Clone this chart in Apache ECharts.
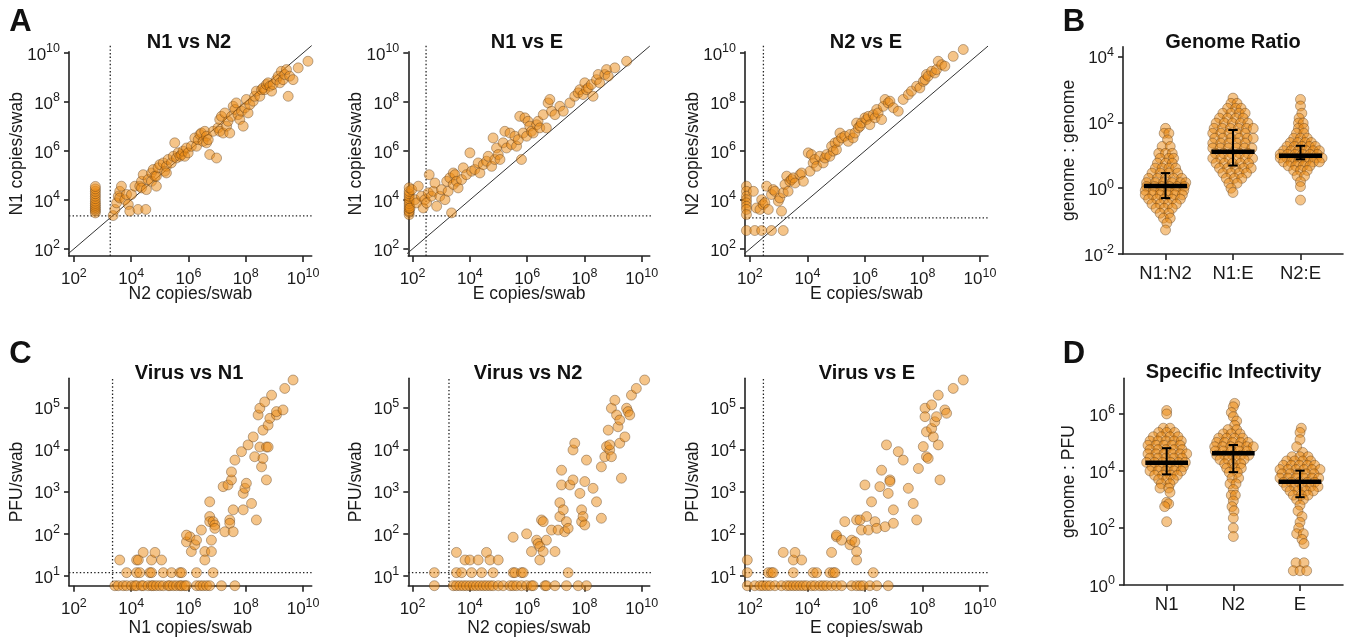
<!DOCTYPE html>
<html><head><meta charset="utf-8">
<script src="https://cdn.jsdelivr.net/npm/echarts@6/dist/echarts.min.js"></script>
<style>html,body{margin:0;padding:0;background:#fff}#c{width:1357px;height:640px}</style>
</head><body><div id="c"></div>
<script>
// ===== DATA (all values are log10 of the plotted quantity) =====
const copyTicks = [2, 4, 6, 8, 10];
const pfuTicks = [1, 2, 3, 4, 5];
const ratioTicks = [-2, 0, 2, 4];
const infTicks = [0, 2, 4, 6];
const ratioCats = ['N1:N2', 'N1:E', 'N2:E'];
const infCats = ['N1', 'N2', 'E'];

// limits of detection (log10)
const lodN1 = 3.35, lodN2 = 3.27, lodE = 2.47, lodPFU = 1.08;

// A: [x, y] pairs
const n1VsN2 = [ // x = N2, y = N1
[2.75,3.47],[2.75,3.55],[2.75,3.62],[2.75,3.7],[2.75,3.78],[2.75,3.86],[2.75,3.95],[2.75,4.05],[2.75,4.15],[2.75,4.25],[2.75,4.35],[2.75,4.45],[2.75,4.55],
[3.37,3.36],[3.43,3.61],[3.49,3.88],[3.55,4.15],[3.6,4.35],[3.6,4.08],[3.66,4.56],[3.78,4.01],[3.84,4.22],[3.9,3.81],[3.95,3.54],[4.01,4.22],[4.13,4.56],[4.24,3.61],[4.3,4.56],[4.36,4.76],[4.36,4.49],[4.42,5.03],[4.51,3.61],[4.53,4.42],[4.59,4.83],[4.71,5.1],[4.71,4.76],[4.77,5.24],[4.83,4.97],[4.88,4.56],[4.88,4.97],[4.94,5.31],[5.0,5.44],[5.12,5.51],[5.17,5.17],[5.23,5.37],[5.23,5.1],[5.29,5.65],[5.4,5.51],[5.47,5.78],[5.52,6.33],[5.58,5.71],[5.64,5.92],[5.7,5.78],[5.76,5.85],[5.81,5.99],[5.87,5.78],[5.93,6.12],[5.99,5.92],[6.1,6.19],[6.22,6.53],[6.28,6.19],[6.34,6.46],[6.4,6.67],[6.45,6.73],[6.51,6.39],[6.57,6.8],[6.63,6.6],[6.63,6.33],[6.69,6.46],[6.74,5.85],[6.86,6.8],[6.98,5.71],[7.03,6.94],[7.09,6.8],[7.09,7.28],[7.15,7.41],[7.21,6.73],[7.27,7.55],[7.33,7.01],[7.38,7.21],[7.44,6.73],[7.5,7.41],[7.56,7.82],[7.62,7.69],[7.67,7.96],[7.73,7.48],[7.79,7.28],[7.85,7.62],[7.91,7.01],[7.97,7.76],[8.02,8.1],[8.08,7.55],[8.14,7.89],[8.26,8.03],[8.31,8.23],[8.37,8.44],[8.49,8.23],[8.55,8.5],[8.6,8.57],[8.66,8.5],[8.72,8.71],[8.78,8.78],[8.84,8.64],[8.9,8.44],[8.95,8.71],[9.07,8.91],[9.13,9.05],[9.19,8.78],[9.24,9.25],[9.3,8.91],[9.36,9.12],[9.42,9.32],[9.48,8.23],[9.53,9.05],[9.65,8.91],[9.83,9.39],[10.17,9.66]
];
const n1VsE = [ // x = E, y = N1
[1.88,3.4],[1.88,3.5],[1.88,3.55],[1.88,3.65],[1.88,3.75],[1.88,3.85],[1.88,3.95],[1.88,4.05],[1.88,4.15],[1.88,4.25],[1.88,4.35],[1.88,4.5],
[1.91,3.67],[1.97,4.42],[2.08,4.01],[2.14,3.88],[2.2,4.56],[2.31,4.15],[2.37,3.67],[2.43,4.01],[2.49,3.88],[2.55,4.29],[2.58,5.03],[2.66,4.15],[2.72,4.35],[2.78,4.69],[2.84,3.74],[2.95,4.15],[3.01,4.42],[3.13,4.01],[3.19,4.76],[3.24,4.35],[3.3,4.9],[3.36,3.47],[3.42,4.63],[3.42,5.1],[3.48,5.03],[3.53,4.76],[3.59,4.49],[3.71,4.83],[3.77,5.31],[3.88,5.03],[4.0,5.92],[4.06,5.17],[4.17,5.24],[4.29,5.51],[4.35,5.1],[4.47,5.44],[4.58,5.58],[4.64,5.78],[4.76,5.37],[4.81,6.53],[4.87,5.65],[4.93,6.12],[4.99,5.85],[5.05,5.65],[5.16,6.33],[5.22,6.8],[5.28,6.12],[5.4,6.73],[5.45,6.26],[5.57,6.6],[5.63,6.19],[5.69,6.46],[5.74,7.41],[5.8,5.65],[5.86,6.73],[5.92,7.35],[5.98,6.6],[6.03,7.21],[6.09,7.01],[6.15,6.8],[6.21,6.73],[6.33,7.07],[6.38,7.21],[6.44,6.94],[6.56,7.48],[6.67,6.94],[6.73,7.96],[6.79,8.1],[6.85,7.62],[6.97,7.48],[7.14,7.82],[7.26,7.62],[7.49,7.96],[7.66,8.23],[7.78,8.37],[7.84,8.5],[7.95,8.3],[8.01,8.78],[8.07,8.5],[8.13,8.57],[8.24,8.71],[8.3,8.23],[8.42,8.91],[8.48,9.12],[8.53,8.78],[8.71,9.12],[8.77,9.32],[8.83,9.05],[9.06,9.39],[9.47,9.66]
];
const n2VsE = [ // x = E, y = N2
[1.88,4.56],[1.88,4.35],[1.88,4.15],[1.88,4.01],[1.88,3.88],[1.88,3.74],[1.88,3.61],[1.88,3.4],[1.88,2.75],
[2.17,2.75],[2.41,2.75],[2.75,2.75],[3.16,2.75],
[2.12,4.35],[2.23,3.67],[2.35,3.61],[2.41,4.01],[2.46,3.81],[2.52,3.88],[2.58,4.56],[2.64,3.61],[2.75,4.22],[2.81,4.42],[2.87,4.35],[2.99,3.95],[3.1,3.54],[3.04,4.08],[3.16,4.29],[3.22,4.63],[3.28,4.97],[3.33,4.35],[3.39,4.76],[3.45,4.83],[3.51,4.9],[3.57,4.69],[3.74,5.03],[3.8,5.1],[3.86,4.76],[4.03,5.92],[4.09,5.17],[4.14,5.85],[4.2,5.51],[4.26,5.65],[4.32,5.37],[4.43,5.78],[4.55,5.51],[4.61,5.71],[4.67,5.85],[4.78,5.78],[4.84,6.19],[4.9,5.99],[4.96,6.33],[5.01,6.05],[5.07,6.39],[5.13,6.73],[5.19,6.53],[5.3,6.6],[5.42,6.39],[5.48,6.67],[5.59,6.53],[5.65,6.73],[5.71,7.14],[5.77,6.94],[5.83,7.01],[5.88,7.14],[6.0,7.35],[6.06,7.28],[6.12,7.41],[6.17,7.07],[6.29,7.48],[6.35,7.35],[6.41,7.69],[6.46,7.55],[6.58,7.28],[6.64,7.82],[6.7,8.1],[6.81,7.96],[6.87,8.03],[6.99,7.76],[7.16,7.62],[7.33,8.1],[7.51,8.3],[7.62,8.44],[7.8,8.64],[7.91,8.57],[8.03,8.84],[8.09,8.91],[8.14,9.12],[8.2,9.05],[8.32,9.25],[8.43,9.18],[8.49,9.32],[8.55,9.66],[8.67,9.52],[8.78,9.46],[9.07,9.86],[9.42,10.14]
];

// C: [copies, PFU] pairs
const virusVsN1 = [
[3.43,0.77],[3.55,0.77],[3.72,0.77],[3.84,0.77],[4.01,0.77],[4.13,0.77],[4.19,0.77],[4.36,0.77],[4.42,0.77],[4.59,0.77],[4.71,0.77],[4.77,0.77],[4.88,0.77],[5.0,0.77],[5.12,0.77],[5.29,0.77],[5.35,0.77],[5.47,0.77],[5.58,0.77],[5.7,0.77],[5.76,0.77],[5.87,0.77],[5.93,0.77],[6.28,0.77],[6.4,0.77],[6.51,0.77],[6.63,0.77],[6.74,0.77],[7.15,0.77],[7.62,0.77],
[3.84,1.08],[4.19,1.08],[4.3,1.08],[4.65,1.08],[4.71,1.08],[5.12,1.08],[5.41,1.08],[5.7,1.08],[5.76,1.08],[6.28,1.08],[6.86,1.08],
[3.6,1.38],[4.19,1.38],[4.25,1.38],[4.71,1.38],[5.06,1.38],[4.42,1.56],[4.83,1.56],
[5.93,1.81],[6.05,1.93],[5.93,1.97],[6.1,1.58],[6.22,1.74],[6.28,1.85],[6.45,2.09],[6.57,1.58],[6.57,1.38],[6.74,2.76],[6.74,2.41],[6.74,2.29],[6.8,1.58],[6.86,2.29],[6.8,1.85],[6.92,2.21],[6.92,2.13],[7.21,3.12],[7.27,2.05],[7.38,3.16],[7.44,2.33],[7.44,2.25],[7.5,3.28],[7.5,3.47],[7.56,2.57],[7.56,2.05],[7.62,3.75],[7.85,3.95],[7.91,2.96],[7.91,2.57],[7.97,3.08],[8.02,3.2],[8.08,4.11],[8.2,2.72],[8.26,4.3],[8.31,3.83],[8.37,2.33],[8.43,4.82],[8.49,4.06],[8.49,4.98],[8.55,3.59],[8.6,4.46],[8.6,3.79],[8.66,5.13],[8.72,4.06],[8.72,3.28],[8.78,4.58],[8.78,4.06],[8.84,4.74],[8.9,5.29],[9.07,4.82],[9.07,4.9],[9.3,4.94],[9.36,5.45],[9.65,5.65]
];
const virusVsN2 = [
[2.76,0.77],[3.42,0.77],[3.53,0.77],[3.65,0.77],[3.77,0.77],[3.88,0.77],[4.0,0.77],[4.12,0.77],[4.23,0.77],[4.35,0.77],[4.47,0.77],[4.58,0.77],[4.7,0.77],[4.81,0.77],[4.99,0.77],[5.16,0.77],[5.4,0.77],[5.51,0.77],[5.63,0.77],[5.8,0.77],[5.98,0.77],[6.15,0.77],[6.21,0.77],[6.62,0.77],[6.67,0.77],[6.97,0.77],[7.37,0.77],[7.78,0.77],[8.07,0.77],
[2.76,1.08],[3.53,1.08],[3.71,1.08],[4.06,1.08],[4.41,1.08],[4.81,1.08],[5.51,1.08],[5.57,1.08],[5.8,1.08],[5.86,1.08],[7.43,1.08],
[3.53,1.56],[3.83,1.38],[4.0,1.38],[4.29,1.38],[4.58,1.56],[4.7,1.38],[4.99,1.38],
[5.51,1.92],[5.98,2.0],[6.15,1.58],[6.33,1.85],[6.38,1.77],[6.44,1.7],[6.44,1.38],[6.56,1.58],[6.5,2.33],[6.56,2.29],[6.67,1.85],[6.85,2.09],[6.97,1.58],[7.08,2.09],[7.14,2.74],[7.14,2.41],[7.2,3.51],[7.2,3.16],[7.26,2.57],[7.31,2.05],[7.37,2.29],[7.43,2.13],[7.49,3.16],[7.6,3.28],[7.6,3.99],[7.66,4.15],[7.84,2.96],[7.9,2.57],[7.9,2.29],[7.95,2.41],[8.01,2.21],[8.01,3.24],[8.07,3.75],[8.3,3.08],[8.42,2.76],[8.59,3.59],[8.59,2.37],[8.71,3.83],[8.77,4.07],[8.83,4.46],[8.88,3.99],[8.88,4.11],[8.94,3.83],[8.94,4.98],[9.06,5.17],[9.12,4.82],[9.17,4.54],[9.23,4.7],[9.23,4.15],[9.29,3.32],[9.41,4.3],[9.47,4.98],[9.52,4.9],[9.58,4.82],[9.64,5.29],[9.81,5.45],[10.1,5.65]
];
const virusVsE = [
[1.91,0.77],[2.17,0.77],[2.35,0.77],[2.46,0.77],[2.58,0.77],[2.7,0.77],[2.87,0.77],[3.1,0.77],[3.28,0.77],[3.39,0.77],[3.51,0.77],[3.62,0.77],[3.74,0.77],[3.86,0.77],[3.97,0.77],[4.14,0.77],[4.26,0.77],[4.43,0.77],[4.55,0.77],[4.67,0.77],[4.84,0.77],[5.01,0.77],[5.19,0.77],[5.54,0.77],[5.71,0.77],[5.83,0.77],[5.94,0.77],[6.17,0.77],[6.41,0.77],[6.81,0.77],
[1.91,1.08],[2.64,1.08],[2.75,1.08],[2.81,1.08],[3.51,1.08],[4.2,1.08],[4.32,1.08],[4.78,1.08],[4.9,1.08],[4.96,1.08],[6.29,1.08],
[1.91,1.38],[3.51,1.38],[3.8,1.38],[5.71,1.38],[3.16,1.56],[3.57,1.56],[4.84,1.56],[5.71,1.58],
[5.01,1.93],[5.01,1.97],[5.19,1.85],[5.3,2.29],[5.48,1.74],[5.54,1.85],[5.65,1.81],[5.71,2.33],[5.83,2.33],[5.88,2.09],[6.0,3.16],[6.06,2.41],[6.12,2.09],[6.23,2.76],[6.35,2.29],[6.41,2.13],[6.52,3.12],[6.58,3.51],[6.7,2.17],[6.75,4.11],[6.81,2.96],[6.87,3.28],[6.87,3.24],[6.99,2.57],[6.99,2.25],[7.16,3.95],[7.33,3.75],[7.51,3.08],[7.68,2.72],[7.86,3.55],[7.8,2.33],[8.03,4.07],[8.09,4.98],[8.09,4.78],[8.14,4.42],[8.14,3.83],[8.2,3.79],[8.32,5.06],[8.32,4.5],[8.38,4.3],[8.43,4.66],[8.49,4.78],[8.55,5.29],[8.55,4.11],[8.61,3.28],[8.78,4.94],[8.84,4.86],[9.07,5.45],[9.42,5.65]
];

// B: genome ratios, [horizontal swarm offset, log10 ratio]
const ratioN1N2 = [
[0,1.82],[-0.02,1.67],[0.05,1.67],[0.03,1.47],[-0.05,1.27],[0.07,1.27],[-0.1,1.06],[0,1.06],[0.1,1.06],[-0.08,0.91],[0.05,0.91],[0.12,0.91],[-0.12,0.76],[0,0.76],[0.1,0.76],
[-0.15,0.61],[-0.05,0.61],[0.05,0.61],[0.15,0.61],[-0.2,0.46],[-0.08,0.46],[0.05,0.46],[0.18,0.46],[-0.25,0.3],[-0.12,0.3],[0,0.3],[0.12,0.3],[0.24,0.3],
[-0.28,0.17],[-0.15,0.17],[-0.03,0.17],[0.1,0.17],[0.22,0.17],[0.3,0.17],[-0.28,0.05],[-0.16,0.05],[-0.05,0.05],[0.06,0.05],[0.17,0.05],[0.28,0.05],
[-0.3,-0.07],[-0.18,-0.07],[-0.07,-0.07],[0.04,-0.07],[0.15,-0.07],[0.27,-0.07],[-0.3,-0.2],[-0.19,-0.2],[-0.08,-0.2],[0.03,-0.2],[0.14,-0.2],[0.25,-0.2],
[-0.25,-0.33],[-0.13,-0.33],[-0.02,-0.33],[0.1,-0.33],[0.22,-0.33],[-0.2,-0.48],[-0.08,-0.48],[0.04,-0.48],[0.16,-0.48],[-0.14,-0.61],[-0.02,-0.61],[0.1,-0.61],
[-0.08,-0.76],[0.05,-0.76],[-0.03,-0.91],[0.07,-0.91],[0.02,-1.06],[0,-1.27]
];
const ratioN1E = [
[0,2.74],[-0.03,2.58],[0.06,2.58],[-0.08,2.43],[0.04,2.43],[0.12,2.43],[-0.15,2.28],[-0.03,2.28],[0.09,2.28],[0.18,2.28],[-0.2,2.13],[-0.08,2.13],[0.04,2.13],[0.15,2.13],
[-0.25,1.98],[-0.13,1.98],[-0.01,1.98],[0.11,1.98],[0.22,1.98],[-0.28,1.82],[-0.16,1.82],[-0.04,1.82],[0.08,1.82],[0.2,1.82],[0.3,1.82],
[-0.3,1.67],[-0.18,1.67],[-0.06,1.67],[0.06,1.67],[0.18,1.67],[-0.27,1.52],[-0.15,1.52],[-0.03,1.52],[0.09,1.52],[0.21,1.52],[0.3,1.52],
[-0.3,1.37],[-0.18,1.37],[-0.06,1.37],[0.06,1.37],[0.18,1.37],[-0.3,1.22],[-0.19,1.22],[-0.07,1.22],[0.05,1.22],[0.17,1.22],[0.28,1.22],
[-0.26,1.06],[-0.14,1.06],[-0.02,1.06],[0.1,1.06],[0.22,1.06],[-0.3,0.91],[-0.18,0.91],[-0.06,0.91],[0.06,0.91],[0.18,0.91],[0.29,0.91],
[-0.25,0.76],[-0.13,0.76],[-0.01,0.76],[0.11,0.76],[0.23,0.76],[-0.2,0.61],[-0.08,0.61],[0.04,0.61],[0.16,0.61],[0.27,0.61],
[-0.15,0.46],[-0.03,0.46],[0.09,0.46],[0.2,0.46],[-0.1,0.3],[0.02,0.3],[0.13,0.3],[-0.06,0.15],[0.06,0.15],[-0.03,0.0],[0,-0.13]
];
const ratioN2E = [
[0,2.7],[0,2.5],[0.02,2.28],[-0.02,2.13],[-0.03,1.98],[0.04,1.98],[-0.03,1.82],[0.05,1.82],[-0.06,1.67],[0.05,1.67],[-0.1,1.52],[0,1.52],[0.1,1.52],
[-0.15,1.39],[-0.04,1.39],[0.07,1.39],[0.16,1.39],[-0.2,1.27],[-0.09,1.27],[0.02,1.27],[0.13,1.27],[0.22,1.27],
[-0.25,1.14],[-0.14,1.14],[-0.03,1.14],[0.08,1.14],[0.19,1.14],[0.28,1.14],[-0.3,1.03],[-0.19,1.03],[-0.08,1.03],[0.03,1.03],[0.14,1.03],[0.25,1.03],
[-0.3,0.92],[-0.2,0.92],[-0.09,0.92],[0.02,0.92],[0.13,0.92],[0.24,0.92],[0.32,0.92],[-0.25,0.8],[-0.14,0.8],[-0.03,0.8],[0.08,0.8],[0.19,0.8],[0.28,0.8],
[-0.18,0.68],[-0.07,0.68],[0.04,0.68],[0.14,0.68],[-0.1,0.54],[0,0.54],[0.1,0.54],[-0.05,0.37],[0.06,0.37],[0,0.2],[0,0.05],[0,-0.36]
];
const ratioMedian = [0.07, 1.11, 0.99];
const ratioLow = [-0.3, 0.69, 0.88];
const ratioHigh = [0.46, 1.77, 1.29];

// D: specific infectivity, [horizontal swarm offset, log10 genome:PFU]
const infN1 = [
[0,6.12],[0,6.0],[-0.05,5.5],[0.05,5.5],[-0.12,5.35],[0,5.35],[0.12,5.35],[-0.2,5.2],[-0.08,5.2],[0.05,5.2],[0.17,5.2],
[-0.25,5.05],[-0.13,5.05],[-0.01,5.05],[0.11,5.05],[0.22,5.05],[-0.28,4.9],[-0.16,4.9],[-0.04,4.9],[0.08,4.9],[0.2,4.9],
[-0.25,4.75],[-0.13,4.75],[-0.01,4.75],[0.11,4.75],[0.23,4.75],[-0.28,4.6],[-0.16,4.6],[-0.04,4.6],[0.08,4.6],[0.2,4.6],[0.3,4.6],
[-0.25,4.45],[-0.13,4.45],[-0.01,4.45],[0.11,4.45],[0.23,4.45],[-0.3,4.3],[-0.18,4.3],[-0.06,4.3],[0.06,4.3],[0.18,4.3],[0.28,4.3],
[-0.22,4.15],[-0.1,4.15],[0.02,4.15],[0.14,4.15],[0.25,4.15],[-0.25,4.0],[-0.13,4.0],[-0.01,4.0],[0.11,4.0],[0.22,4.0],
[-0.18,3.85],[-0.06,3.85],[0.06,3.85],[0.16,3.85],[-0.12,3.7],[0,3.7],[0.1,3.7],[-0.08,3.55],[0.05,3.55],[-0.1,3.4],[0.03,3.4],[0.05,3.25],
[0,2.9],[0.03,2.85],[-0.03,2.75],[0,2.22]
];
const infN2 = [
[0.02,6.37],[0,6.25],[-0.03,6.05],[0,5.9],[0.05,5.75],[0.02,5.6],[-0.08,5.45],[0.05,5.45],[-0.15,5.3],[-0.03,5.3],[0.1,5.3],
[-0.22,5.15],[-0.1,5.15],[0.02,5.15],[0.14,5.15],[-0.25,5.0],[-0.13,5.0],[-0.01,5.0],[0.11,5.0],[0.22,5.0],
[-0.28,4.85],[-0.16,4.85],[-0.04,4.85],[0.08,4.85],[0.2,4.85],[0.3,4.85],[-0.27,4.7],[-0.15,4.7],[-0.03,4.7],[0.09,4.7],[0.21,4.7],
[-0.25,4.55],[-0.13,4.55],[-0.01,4.55],[0.11,4.55],[0.23,4.55],[-0.2,4.4],[-0.08,4.4],[0.04,4.4],[0.16,4.4],
[-0.13,4.25],[-0.01,4.25],[0.11,4.25],[-0.1,4.1],[0.02,4.1],[0.12,4.1],[-0.06,3.95],[0.06,3.95],[-0.02,3.75],[0.08,3.75],
[-0.05,3.55],[0.04,3.55],[0,3.35],[-0.03,3.15],[0.03,3.15],[0,2.95],[-0.02,2.75],[0.01,2.6],[0,2.35],[0,2.0],[0,1.7]
];
const infE = [
[0.02,5.5],[0,5.35],[0,5.1],[-0.05,4.85],[0.04,4.65],[-0.12,4.5],[0,4.5],[0.12,4.5],[-0.2,4.35],[-0.08,4.35],[0.04,4.35],[0.16,4.35],
[-0.25,4.2],[-0.13,4.2],[-0.01,4.2],[0.11,4.2],[0.22,4.2],[-0.3,4.05],[-0.18,4.05],[-0.06,4.05],[0.06,4.05],[0.18,4.05],[0.3,4.05],
[-0.27,3.9],[-0.15,3.9],[-0.03,3.9],[0.09,3.9],[0.21,3.9],[-0.3,3.75],[-0.18,3.75],[-0.06,3.75],[0.06,3.75],[0.18,3.75],[0.28,3.75],
[-0.25,3.6],[-0.13,3.6],[-0.01,3.6],[0.11,3.6],[0.22,3.6],[-0.2,3.45],[-0.08,3.45],[0.04,3.45],[0.16,3.45],[0.27,3.45],
[-0.15,3.3],[-0.03,3.3],[0.09,3.3],[0.2,3.3],[-0.1,3.15],[0.02,3.15],[0.12,3.15],[-0.05,3.0],[0.05,3.0],
[0,2.8],[-0.03,2.6],[0.03,2.4],[0,2.2],[-0.02,2.0],[-0.05,1.8],[0.05,1.8],[0.03,1.6],[0.06,1.45],
[-0.06,0.78],[0.06,0.78],[-0.1,0.5],[0,0.5],[0.1,0.5]
];
const infMedian = [4.29, 4.62, 3.62];
const infLow = [3.88, 3.96, 3.08];
const infHigh = [4.8, 4.91, 4.01];

// ===== STYLE / LAYOUT =====
const FONT = '"Liberation Sans", Arial, Helvetica, sans-serif';
const TXT = '#1a1a1a', AX = '#222';
const PT_STYLE = {color: 'rgba(236,140,22,0.64)', borderColor: 'rgba(80,50,20,0.6)', borderWidth: 0.8};
const RICH = {
  b: {fontFamily: FONT, fontSize: 17, color: TXT, lineHeight: 21, verticalAlign: 'bottom'},
  s: {fontFamily: FONT, fontSize: 12.5, color: TXT, lineHeight: 12, verticalAlign: 'top'}
};
const powFmt = v => '{b|10}{s|' + v + '}';
const catFmt = cats => v => cats[Math.round(v)] || '';

const panels = [
  {left: 69, top: 51.7, width: 242.7, height: 204.3, x: [1.83, 10.3], y: [1.71, 10.05], xt: copyTicks, yt: copyTicks, xf: powFmt, yf: powFmt, xn: 'N2 copies/swab', yn: 'N1 copies/swab', xg: 29},
  {left: 408.3, top: 51.7, width: 241.5, height: 204.3, x: [1.85, 10.28], y: [1.71, 10.05], xt: copyTicks, yt: copyTicks, xf: powFmt, yf: powFmt, xn: 'E copies/swab', yn: 'N1 copies/swab', xg: 29},
  {left: 745, top: 51.7, width: 243, height: 204.3, x: [1.83, 10.28], y: [1.71, 10.05], xt: copyTicks, yt: copyTicks, xf: powFmt, yf: powFmt, xn: 'E copies/swab', yn: 'N2 copies/swab', xg: 29},
  {left: 1123, top: 46.8, width: 220, height: 207.2, x: [-0.63, 2.63], y: [-2, 4.3], xt: [0, 1, 2], yt: ratioTicks, xf: catFmt(ratioCats), yf: powFmt, xn: '', yn: 'genome : genome', xg: 30, cat: true, yg: 45},
  {left: 69, top: 378.3, width: 242.7, height: 207.4, x: [1.83, 10.3], y: [0.77, 5.69], xt: copyTicks, yt: pfuTicks, xf: powFmt, yf: powFmt, xn: 'N1 copies/swab', yn: 'PFU/swab', xg: 33},
  {left: 408.3, top: 378.3, width: 241.5, height: 207.4, x: [1.85, 10.28], y: [0.77, 5.69], xt: copyTicks, yt: pfuTicks, xf: powFmt, yf: powFmt, xn: 'N2 copies/swab', yn: 'PFU/swab', xg: 33},
  {left: 745, top: 378.3, width: 243, height: 207.4, x: [1.83, 10.28], y: [0.77, 5.69], xt: copyTicks, yt: pfuTicks, xf: powFmt, yf: powFmt, xn: 'E copies/swab', yn: 'PFU/swab', xg: 33},
  {left: 1124, top: 378.3, width: 219, height: 206.7, x: [-0.64, 2.645], y: [0, 7.25], xt: [0, 1, 2], yt: infTicks, xf: catFmt(infCats), yf: powFmt, xn: '', yn: 'genome : PFU', xg: 30, cat: true, yg: 46}
];

const grid = [], xAxis = [], yAxis = [], series = [];
panels.forEach((p, i) => {
  grid.push({left: p.left, top: p.top, width: p.width, height: p.height, containLabel: false, outerBoundsMode: 'none'});
  const line = {show: true, onZero: false, lineStyle: {color: AX, width: 1.6}};
  const nameStyle = {fontFamily: FONT, fontSize: 17.5, color: TXT};
  xAxis.push({
    type: 'value', gridIndex: i, min: p.x[0], max: p.x[1], splitLine: {show: false},
    axisLine: line,
    axisTick: {show: true, length: 6, customValues: p.xt, lineStyle: {color: AX, width: 1.6}},
    axisLabel: p.cat
      ? {customValues: p.xt, formatter: p.xf, margin: 10, fontFamily: FONT, fontSize: 18.5, color: TXT}
      : {customValues: p.xt, formatter: p.xf, margin: 11, rich: RICH},
    name: p.xn, nameLocation: 'middle', nameGap: p.xg, nameMoveOverlap: false, nameTextStyle: nameStyle
  });
  yAxis.push({
    type: 'value', gridIndex: i, min: p.y[0], max: p.y[1], splitLine: {show: false},
    axisLine: line,
    axisTick: {show: true, length: 5, customValues: p.yt, lineStyle: {color: AX, width: 1.6}},
    axisLabel: {customValues: p.yt, formatter: p.yf, margin: 9, rich: RICH},
    name: p.yn, nameLocation: 'middle', nameGap: p.yg || 43, nameMoveOverlap: false, nameTextStyle: nameStyle
  });
});

function refLine(i, pts, dotted) {
  series.push({
    type: 'line', xAxisIndex: i, yAxisIndex: i, data: pts, symbol: 'none', silent: true, clip: false, z: 1,
    lineStyle: dotted ? {color: '#222', width: 1.3, type: [1.4, 2.2]} : {color: '#333', width: 1}
  });
}
function scatter(i, pts) {
  series.push({type: 'scatter', xAxisIndex: i, yAxisIndex: i, data: pts, symbolSize: 10, itemStyle: PT_STYLE, clip: false, silent: true, z: 3});
}
function swarm(i, groups) {
  groups.forEach((g, k) => scatter(i, g.map(d => [k + d[0], d[1]])));
}
function stats(i, med, lo, hi) {
  const data = med.map((m, k) => [k, m, lo[k], hi[k]]);
  const HALF = 0.32, CAP = 0.07;
  series.push({
    type: 'custom', xAxisIndex: i, yAxisIndex: i, data, z: 5, silent: true, clip: false,
    renderItem(params, api) {
      const c = api.value(0), m = api.value(1), l = api.value(2), h = api.value(3);
      const seg = (a, b, w) => ({type: 'line', shape: {x1: a[0], y1: a[1], x2: b[0], y2: b[1]}, style: {stroke: '#000', lineWidth: w}});
      return {type: 'group', children: [
        seg(api.coord([c, l]), api.coord([c, h]), 2),
        seg(api.coord([c - CAP, h]), api.coord([c + CAP, h]), 2),
        seg(api.coord([c - CAP, l]), api.coord([c + CAP, l]), 2),
        seg(api.coord([c - HALF, m]), api.coord([c + HALF, m]), 4.5)
      ]};
    }
  });
}

// A
refLine(0, [[1.75, 1.75], [10.3, 10.3]]);
refLine(0, [[lodN2, 1.71], [lodN2, 10.3]], true);
refLine(0, [[1.83, lodN1], [10.42, lodN1]], true);
scatter(0, n1VsN2);
refLine(1, [[1.78, 1.78], [10.28, 10.28]]);
refLine(1, [[lodE, 1.71], [lodE, 10.3]], true);
refLine(1, [[1.85, lodN1], [10.45, lodN1]], true);
scatter(1, n1VsE);
refLine(2, [[1.78, 1.78], [10.28, 10.28]]);
refLine(2, [[lodE, 1.71], [lodE, 10.3]], true);
refLine(2, [[1.83, lodN2], [10.28, lodN2]], true);
scatter(2, n2VsE);
// B
swarm(3, [ratioN1N2, ratioN1E, ratioN2E]);
stats(3, ratioMedian, ratioLow, ratioHigh);
// C
refLine(4, [[lodN1, 0.77], [lodN1, 5.69]], true);
refLine(4, [[1.83, lodPFU], [10.42, lodPFU]], true);
scatter(4, virusVsN1);
refLine(5, [[lodN2, 0.77], [lodN2, 5.69]], true);
refLine(5, [[1.85, lodPFU], [10.45, lodPFU]], true);
scatter(5, virusVsN2);
refLine(6, [[lodE, 0.77], [lodE, 5.69]], true);
refLine(6, [[1.83, lodPFU], [10.28, lodPFU]], true);
scatter(6, virusVsE);
// D
swarm(7, [infN1, infN2, infE]);
stats(7, infMedian, infLow, infHigh);

function txt(text, x, y, size) {
  return {type: 'text', x, y, silent: true, z: 10, style: {text, font: 'bold ' + size + 'px ' + FONT, fill: '#111',
    align: 'center', verticalAlign: 'middle', textAlign: 'center', textVerticalAlign: 'middle'}};
}
const graphic = [
  txt('A', 20.5, 22, 31), txt('B', 1074, 22, 31), txt('C', 20.5, 354, 31), txt('D', 1074, 354, 31),
  txt('N1 vs N2', 189, 42, 20), txt('N1 vs E', 527, 42, 20), txt('N2 vs E', 866, 42, 20), txt('Genome Ratio', 1233, 42, 20),
  txt('Virus vs N1', 189, 373, 20), txt('Virus vs N2', 528, 373, 20), txt('Virus vs E', 867, 373, 20), txt('Specific Infectivity', 1233.5, 372, 20)
];

const chart = echarts.init(document.getElementById('c'), null, {renderer: 'canvas'});
chart.setOption({animation: false, backgroundColor: '#fff', textStyle: {fontFamily: FONT}, grid, xAxis, yAxis, series, graphic});
</script></body></html>
